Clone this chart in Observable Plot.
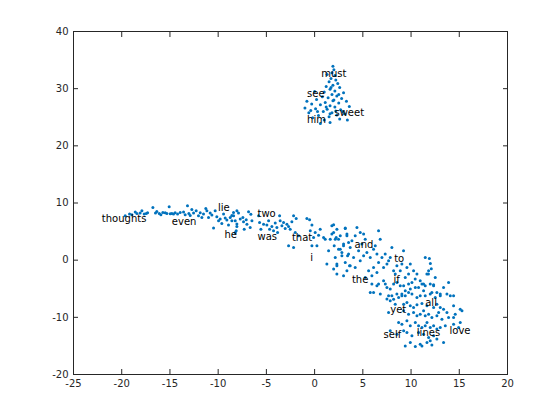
<!DOCTYPE html>
<html>
<head>
<meta charset="utf-8">
<script src="https://cdn.jsdelivr.net/npm/d3@7"></script>
<script src="https://cdn.jsdelivr.net/npm/@observablehq/plot@0.6"></script>
<style>
  html, body { margin: 0; padding: 0; background: #ffffff; }
</style>
</head>
<body>
<div id="chart"></div>
<script>
// ---- tick values ----
const xTicks = [-25, -20, -15, -10, -5, 0, 5, 10, 15, 20];
const yTicks = [-20, -10, 0, 10, 20, 30, 40];

// ---- word labels ----
const words  = ["must", "see", "sweet", "him", "thoughts", "even", "lie", "he", "two", "was", "that", "i", "and", "to", "the", "if", "all", "yet", "self", "lines", "love"];
const wordX  = [0.68, -0.78, 2.06, -0.78, -22.06, -14.8, -10.03, -9.34, -5.92, -5.92, -2.35, -0.46, 4.14, 8.25, 3.87, 8.18, 11.47, 7.84, 7.15, 10.6, 13.99];
const wordY  = [32.6, 29.05, 25.8, 24.5, 7.19, 6.7, 9.2, 4.39, 8.06, 4.09, 3.86, 0.47, 2.69, 0.18, -3.43, -3.43, -7.4, -8.73, -13.1, -12.76, -12.35];

// ---- embedded points ----
const clusterTop = [
  [1.9,33.9],[2.0,33.3],[1.8,32.8],[2.1,32.3],[1.7,31.8],[2.2,31.5],[1.5,31.2],[2.4,30.9],[1.9,30.6],[1.2,30.4],
  [2.6,30.2],[1.6,29.9],[2.1,29.6],[1.0,29.4],[3.0,29.3],[1.8,29.0],[2.3,28.7],[0.8,28.6],[1.4,28.4],[2.8,28.3],
  [0.2,28.1],[1.9,27.9],[3.3,27.8],[1.1,27.6],[2.5,27.5],[-0.3,27.3],[0.6,27.2],[1.6,27.0],[2.1,26.8],[3.6,26.9],
  [-1.0,26.6],[0.1,26.5],[1.3,26.4],[2.7,26.3],[0.9,26.0],[1.8,25.8],[-0.6,25.8],[3.1,25.6],[2.3,25.4],[0.4,25.3],
  [1.5,25.1],[-0.2,24.9],[2.6,24.7],[1.0,24.5],[1.6,24.1],[0.6,23.9],[3.4,24.5],[2.9,26.0],[-0.8,27.8],[0.0,29.5],
  [2.5,29.0],[1.3,32.5],[1.7,30.2],[2.0,28.0],[1.2,26.8],[0.3,26.0],[-0.4,26.2],[2.2,26.1],[1.6,25.6]
];
const armLeft = [
  [-19.64,7.77],[-19.19,8.06],[-18.95,7.94],[-18.6,8.41],[-18.43,8.18],[-18.09,8.23],[-17.91,8.64],[-17.67,8.06],
  [-17.46,8.18],[-17.32,8.29],[-16.77,9.22],[-16.5,8.23],[-16.36,8.53],[-16.11,8.18],[-15.94,7.94],[-15.73,8.35],
  [-15.49,8.29],[-15.32,8.18],[-15.08,9.34],[-14.97,8.12],[-14.8,8.18],[-14.63,8.06],[-14.46,8.29],[-14.21,8.06],
  [-13.94,8.35],[-13.59,8.41],[-13.42,7.94],[-13.18,9.52],[-13.04,8.18],[-12.9,7.83],[-12.73,8.87],[-12.55,8.23],
  [-12.28,8.64],[-12.04,7.77],[-11.86,8.29],[-11.69,7.48],[-11.52,8.06],[-11.28,9.05],[-11.17,8.64],[-11.0,7.48],
  [-10.83,8.23],[-10.65,7.88],[-10.48,5.61],[-10.31,8.64],[-10.14,7.59],[-9.96,6.89],[-9.79,7.18],[-9.62,6.43],
  [-9.44,8.06],[-9.27,7.36],[-9.1,7.01],[-8.93,6.13],[-8.75,7.48],[-8.58,7.83],[-8.41,8.35],[-8.23,6.89],
  [-8.06,6.31],[-8.13,5.14]
];
const armMid = [
  [-8.06,8.64],[-7.89,8.23],[-8.4,7.76],[-8.58,6.89],[-7.71,7.18],[-7.44,7.47],[-7.37,6.71],[-7.09,7.06],
  [-7.02,6.3],[-6.85,8.46],[-6.61,8.05],[-6.68,5.72],[-7.3,5.43],[-8.06,5.9],[-8.23,4.85],[-6.5,6.89],
  [-5.81,7.76],[-5.71,6.59],[-5.57,5.43],[-5.29,6.3],[-4.95,6.13],[-4.77,6.89],[-4.67,5.43],[-4.43,5.9],
  [-4.26,5.14],[-4.08,6.48],[-3.91,5.72],[-3.84,4.85],[-3.63,7.76],[-3.57,6.89],[-3.39,6.01],[-3.22,6.59],
  [-3.05,5.55],[-2.87,6.3],[-2.7,5.9],[-2.53,5.43],[-2.36,6.71],[-2.18,7.76],[-2.01,4.85],[-1.91,7.29],
  [-1.66,4.26],[-2.7,2.51],[-2.18,2.22],[-0.8,7.29],[-0.52,7.06],[-0.28,6.13],[-0.45,5.14],[-0.11,3.97],
  [-0.28,2.51],[0.06,4.85],[0.24,2.51],[0.58,5.43],[0.41,4.38],[0.93,3.97],[1.1,3.68],[1.27,-0.69],
  [1.62,3.68],[1.79,6.01],[1.97,4.85],[2.03,2.51],[2.24,3.97],[2.31,-0.98],[2.48,3.68],[2.66,1.93],
  [3.0,2.51],[3.18,5.55],[3.35,4.26],[3.52,3.1],[3.42,0.76],[3.62,-0.98],[2.31,-2.44],[2.83,1.35],[1.45,1.64]
];
const armRight = [
  [1.97,6.19],[2.31,5.43],[1.79,4.56],[2.14,3.68],[2.66,4.27],[3.18,5.61],[3.35,4.56],[3.0,2.81],[2.48,1.93],
  [2.14,0.48],[2.83,0.77],[2.31,-0.69],[1.97,-1.56],[3.18,-0.4],[3.52,1.06],[3.69,2.23],[3.87,3.39],[4.21,4.27],
  [4.39,5.72],[4.73,4.85],[5.08,4.56],[5.25,3.68],[4.9,2.81],[4.56,1.64],[4.04,0.48],[3.69,-0.98],[3.35,-1.86],
  [3.0,-2.73],[4.21,-1.27],[4.73,-0.11],[5.08,0.77],[5.42,1.35],[5.77,0.48],[6.11,1.93],[6.29,2.52],[6.46,1.06],
  [6.8,3.68],[6.63,5.14],[6.63,-0.4],[6.11,-1.27],[5.6,-1.86],[5.25,-3.02],[5.94,-2.73],[6.46,-2.15],[6.98,0.48],
  [7.15,-1.27],[7.32,1.06],[7.5,-0.69],[7.67,-0.11],[7.84,0.48],[8.01,2.23],[8.19,-1.86],[8.36,-2.44],[8.53,-0.98],
  [8.88,-1.86],[9.05,-0.69],[9.22,1.64],[9.4,-3.02],[9.57,-1.27],[9.74,-2.44],[9.92,-0.69],[10.09,-3.9],[10.26,-1.86],
  [10.43,-3.31],[10.61,-2.44],[10.78,-4.77],[10.95,-3.61],[11.13,-4.19],[11.3,-5.35],[11.47,0.48],[11.64,-2.44],
  [11.82,-1.86],[11.99,-4.19],[12.16,-5.65],[12.34,-4.48],[12.51,-3.02],[12.68,-5.65],[13.03,-6.23],[13.37,-4.77],
  [13.72,-5.94],[13.89,-3.9],[9.92,-5.06],[8.53,-5.94],[8.88,-4.48],[7.84,-5.06],[7.15,-3.61],[6.63,-4.19],
  [6.11,-5.65],[5.77,-5.65],[7.5,-6.81],[8.01,-6.23],[9.05,-6.23],[8.19,-4.19],[9.4,-5.35],[5.94,-4.19],
  [11.9,0.3],[12.0,-0.6],[12.1,-1.5],[11.8,-2.4]
];
const armBottom = [
  [6.46,-4.48],[7.33,-4.19],[7.5,-4.78],[8.54,-3.9],[9.23,-4.48],[9.74,-4.19],[10.44,-4.78],[11.3,-4.19],[11.47,-4.48],
  [12.34,-4.31],[6.81,-5.94],[7.67,-6.23],[8.19,-6.82],[8.71,-6.53],[9.05,-5.94],[9.4,-6.23],[9.74,-5.65],[10.09,-5.94],
  [10.61,-6.53],[10.95,-6.23],[11.47,-6.23],[11.99,-5.94],[12.51,-6.53],[13.03,-5.94],[14.07,-6.23],[14.41,-6.23],
  [7.84,-7.11],[8.36,-7.69],[9.23,-7.69],[9.57,-7.4],[9.92,-7.98],[10.26,-8.27],[10.61,-7.81],[11.13,-7.58],[11.3,-8.86],
  [11.65,-7.98],[12.34,-8.27],[12.68,-7.69],[13.03,-8.27],[13.37,-8.57],[13.72,-9.15],[14.41,-7.98],[14.58,-9.44],
  [15.28,-8.86],[15.1,-8.57],[7.67,-9.15],[9.23,-8.86],[9.74,-9.44],[10.26,-9.15],[10.61,-9.73],[10.95,-9.44],
  [11.47,-9.73],[11.82,-9.44],[12.16,-10.02],[12.68,-9.73],[12.86,-9.15],[13.2,-10.32],[13.89,-10.02],[14.41,-10.02],
  [15.1,-10.9],[8.71,-10.9],[9.05,-11.19],[9.57,-10.61],[9.92,-11.48],[10.44,-10.9],[10.78,-11.48],[11.13,-11.77],
  [11.47,-11.48],[11.65,-10.9],[11.99,-11.77],[12.34,-11.48],[12.68,-12.06],[13.03,-11.77],[13.55,-11.48],[14.41,-11.19],
  [14.93,-11.77],[7.84,-12.36],[8.54,-12.94],[9.23,-12.36],[9.57,-12.65],[10.09,-13.23],[10.78,-12.65],[11.3,-12.94],
  [11.82,-13.52],[12.34,-13.23],[12.68,-13.81],[13.37,-14.4],[9.92,-14.4],[10.95,-14.69],[10.44,-15.1],[9.4,-15.0],
  [11.13,-15.0],[11.99,-14.1],[12.16,-14.85],[11.65,-14.4]
];

const points = [...clusterTop, ...armLeft, ...armMid, ...armRight, ...armBottom].map(([x, y]) => ({x, y}));
const labels = words.map((w, i) => ({w, x: wordX[i], y: wordY[i]}));

const axisColor = "#262626";
const fmt = d => String(d);

const chart = Plot.plot({
  width: 560,
  height: 420,
  marginLeft: 73,
  marginRight: 53,
  marginTop: 31,
  marginBottom: 46,
  style: {fontFamily: "'DejaVu Sans', sans-serif", fontSize: "10px", background: "#ffffff", color: axisColor},
  x: {domain: [-25, 20]},
  y: {domain: [-20, 40]},
  marks: [
    Plot.dot(points, {x: "x", y: "y", r: 1.5, fill: "#0072BD", stroke: "none"}),
    Plot.text(labels, {x: "x", y: "y", text: "w", textAnchor: "start", fill: "#000000", fontSize: 10}),
    Plot.frame({stroke: axisColor}),
    Plot.axisX({anchor: "bottom", ticks: xTicks, tickSize: -5, tickPadding: 10, tickFormat: fmt, label: null, stroke: axisColor, fill: axisColor}),
    Plot.axisX({anchor: "top", ticks: xTicks, tickSize: -5, tickFormat: () => "", label: null, stroke: axisColor}),
    Plot.axisY({anchor: "left", ticks: yTicks, tickSize: -5, tickPadding: 10, tickFormat: fmt, label: null, stroke: axisColor, fill: axisColor}),
    Plot.axisY({anchor: "right", ticks: yTicks, tickSize: -5, tickFormat: () => "", label: null, stroke: axisColor})
  ]
});
document.getElementById("chart").appendChild(chart);
</script>
</body>
</html>
